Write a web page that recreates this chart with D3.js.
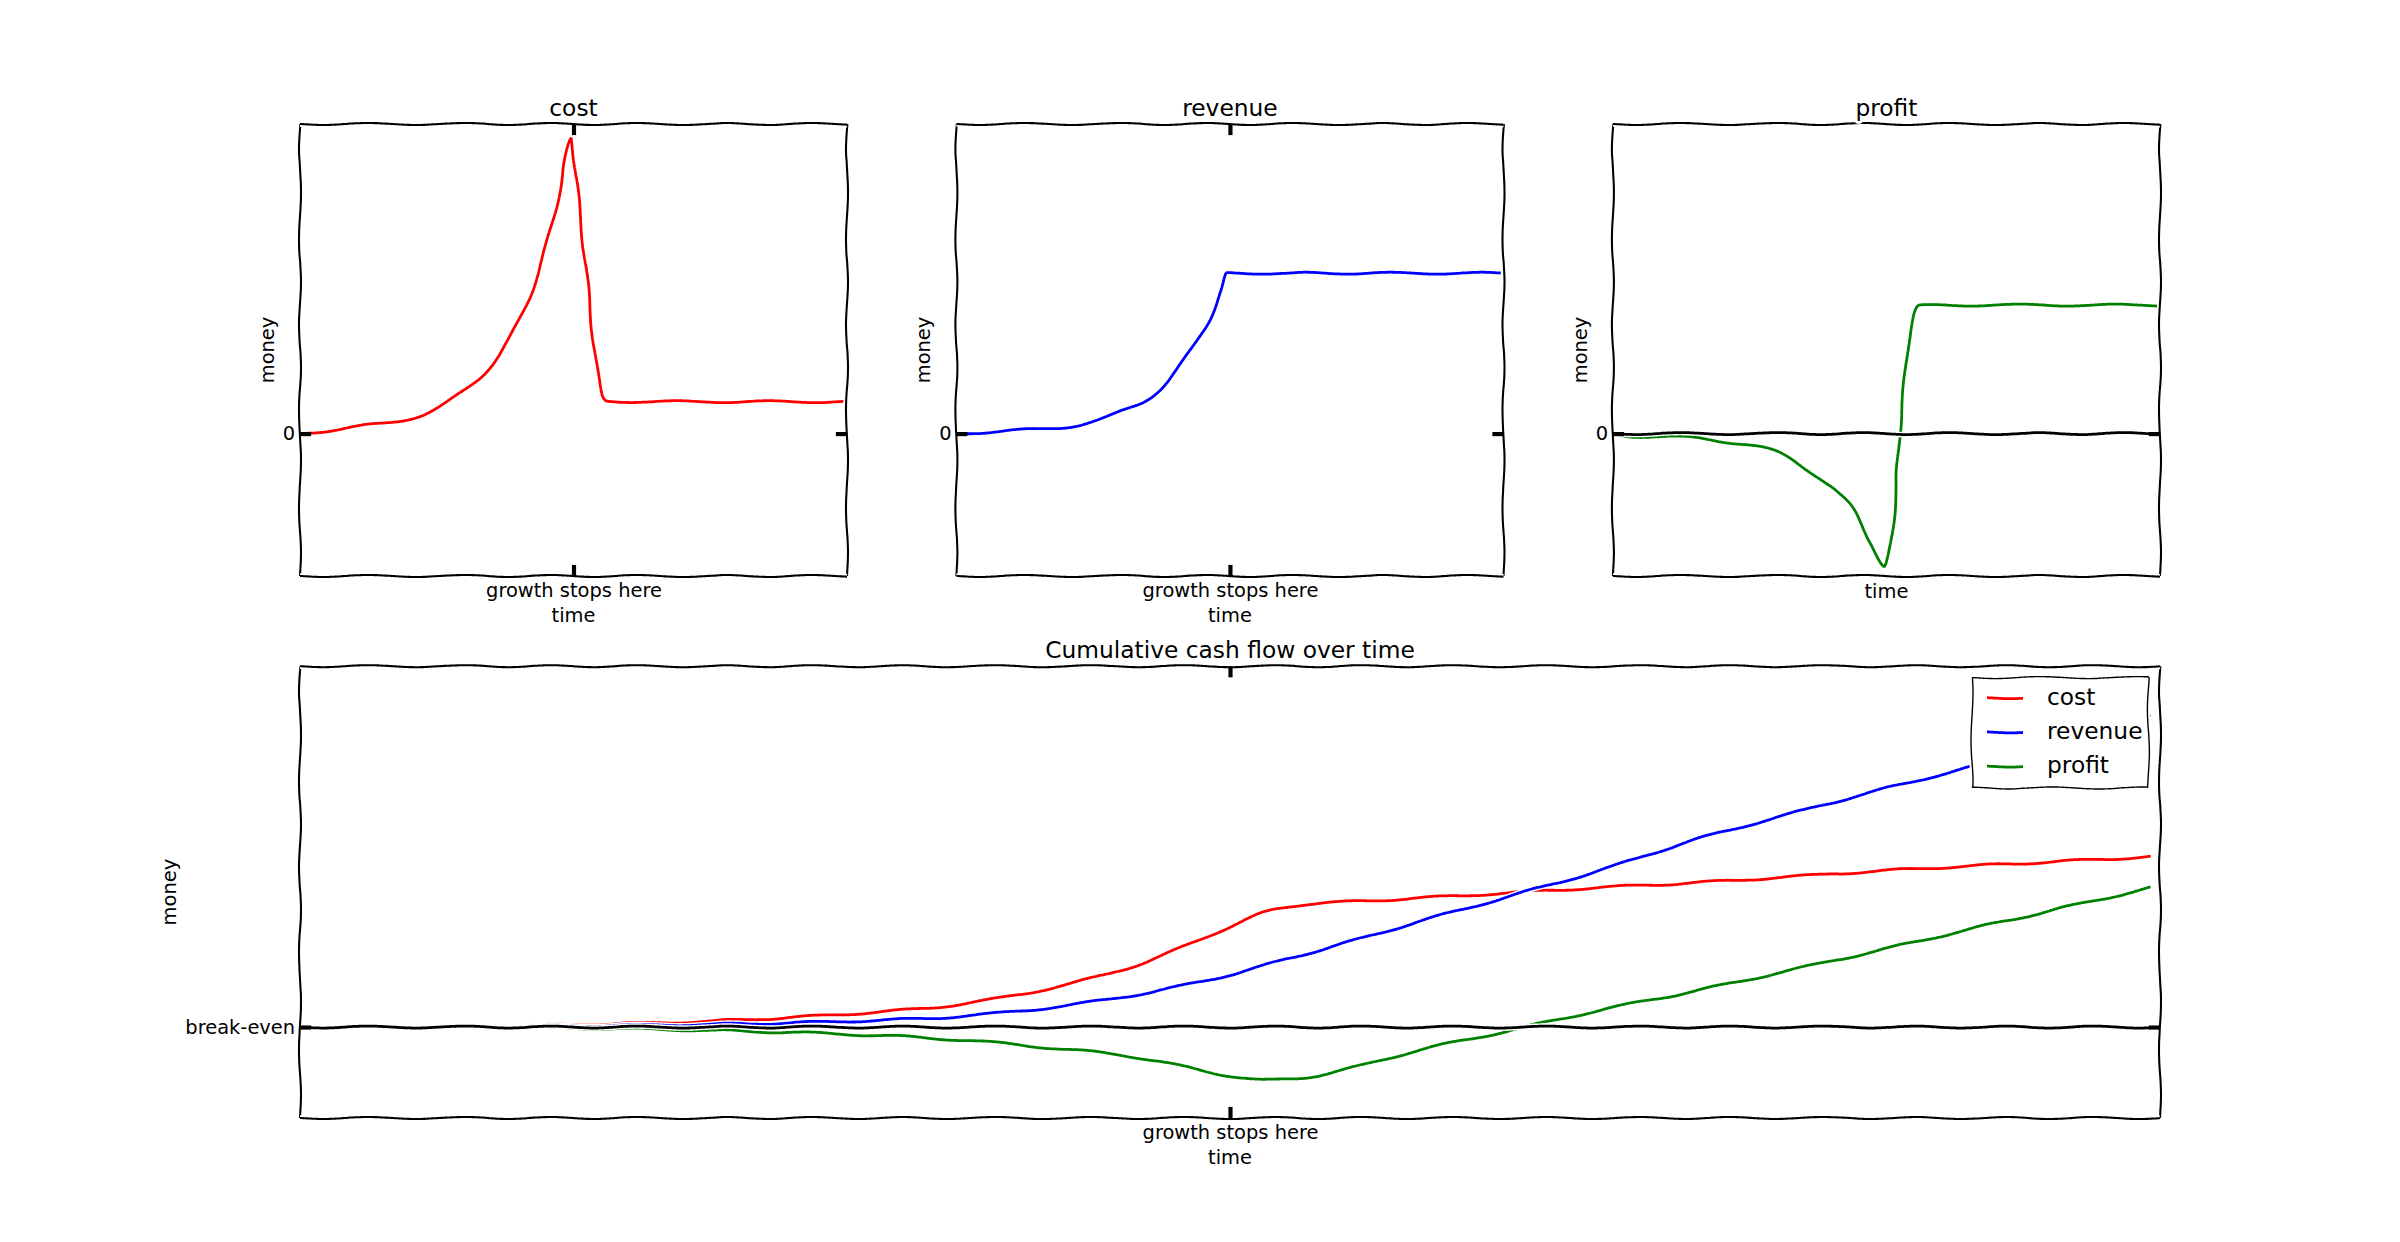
<!DOCTYPE html>
<html>
<head>
<meta charset="utf-8">
<script src="https://cdn.jsdelivr.net/npm/d3@7"></script>
<style>
  body { margin: 0; background: #fff; }
  svg { display: block; }
</style>
</head>
<body>
<svg id="chart" width="2400" height="1242"></svg>
<script>
// ---------------- DATA ----------------
const seriesNames = ["cost", "revenue", "profit"];
const xTickLabel = "growth stops here";
const growthStop = 50;
const topYTickLabel = "0";
const bottomYTickLabel = "break-even";
const panelTitles = ["cost", "revenue", "profit"];
const bottomTitle = "Cumulative cash flow over time";
const xAxisLabel = "time";
const yAxisLabel = "money";

// top panels: per-period amounts
const costTime   = [0, 5, 11.4, 19.6, 23.3, 27.8, 33.8, 36.1, 39.8, 42.8, 44.3, 45.8, 47.6, 49.55, 50.5, 51.5, 52.3, 53.0, 53.6, 54.2, 54.8, 55.4, 56.2, 65, 75, 85, 99.5];
const costValues = [0, 0.009, 0.025, 0.046, 0.067, 0.112, 0.196, 0.248, 0.357, 0.48, 0.56, 0.665, 0.79, 0.955, 0.82, 0.66, 0.53, 0.41, 0.31, 0.22, 0.15, 0.115, 0.105, 0.103, 0.103, 0.103, 0.103];

const revenueTime   = [0, 5, 12.2, 19.7, 24.1, 30.1, 34.6, 37.6, 41.3, 44.3, 47.2, 48.7, 49.5, 60, 75, 90, 99.5];
const revenueValues = [0, 0.004, 0.012, 0.020, 0.035, 0.071, 0.106, 0.150, 0.230, 0.311, 0.403, 0.472, 0.518, 0.518, 0.518, 0.518, 0.518];

const profitTime   = [0, 3.9, 13.6, 20.3, 29.3, 35.2, 41.2, 44.2, 47.2, 49.6, 51.6, 52.4, 53.2, 53.9, 55.0, 56.1, 65, 80, 99.5];
const profitValues = [0, -0.009, -0.012, -0.026, -0.055, -0.113, -0.193, -0.251, -0.354, -0.432, -0.216, 0.0, 0.15, 0.28, 0.382, 0.413, 0.415, 0.415, 0.415];

// bottom panel: cumulative amounts
const cumTime    = [0, 5, 10, 15, 20, 25, 30, 35, 40, 45, 50, 52, 54, 56, 60, 65, 70, 75, 80, 85, 90, 95, 99.5];
const cumCost    = [0, 0.05, 0.25, 0.7, 1.3, 2.3, 3.8, 6.0, 10.4, 17.2, 27.8, 32.0, 34.0, 34.6, 35.7, 37.2, 38.7, 40.0, 41.6, 43.3, 44.7, 46.0, 47.2];
const cumRevenue = [0, 0.03, 0.14, 0.33, 0.6, 1.0, 1.7, 2.8, 5.2, 9.0, 14.5, 17.3, 20.2, 23.0, 29.0, 36.2, 43.6, 51.9, 58.9, 65.8, 72.3, 79.3, 86.2];
const cumProfit  = [0, -0.02, -0.1, -0.35, -0.7, -1.3, -2.1, -3.4, -5.6, -8.4, -13.5, -14.7, -14.0, -12.0, -6.6, -1.0, 4.8, 10.0, 15.6, 21.4, 27.4, 33.3, 38.6];

const seriesColors = ["#ff0000", "#0000ff", "#008000"];

// ---------------- STYLE / LAYOUT ----------------
const FONT = "DejaVu Sans";
const PT = 100 / 72;
const LINE_W = 2 * PT, HALO_W = 4 * PT, SPINE_W = 1.5 * PT, TICK_W = 3 * PT, TICK_L = 8 * PT;
const FS = 14 * PT, FS_TITLE = 16.8 * PT;

const svg = d3.select("#chart");
const tmpPath = svg.append("path").attr("fill", "none").attr("stroke", "none");
const defs = svg.append("defs");

function samplePath(d) {
  tmpPath.attr("d", d);
  const node = tmpPath.node();
  const L = node.getTotalLength();
  const n = Math.max(2, Math.ceil(L));
  const pts = [];
  for (let i = 0; i <= n; i++) {
    const p = node.getPointAtLength(L * i / n);
    pts.push([p.x, p.y]);
  }
  return pts;
}

// matplotlib-like PathSketcher (scale=1, length=100, randomness=2)
function sketch(pts, scale = 1, length = 100, randomness = 2) {
  let seed = 0;
  const rand = () => { seed = (Math.imul(214013, seed) + 2531011) >>> 0; return seed / 4294967296; };
  const pScale = (2 * Math.PI) / (length * randomness);
  const logR = 2 * Math.log(randomness);
  let p = 0;
  let lx = pts[0][0], ly = pts[0][1];
  const out = [[lx, ly]];
  for (let i = 1; i < pts.length; i++) {
    let x = pts[i][0], y = pts[i][1];
    p += Math.exp(rand() * logR);
    const den = lx - x, num = ly - y;
    const len = Math.sqrt(num * num + den * den);
    lx = x; ly = y;
    if (len !== 0) {
      const r = Math.sin(p * pScale) * scale / len;
      x += r * num; y -= r * den;
    }
    out.push([x, y]);
  }
  return out;
}
const lin = d3.line();
function sketchD(d) { return lin(sketch(samplePath(d))); }

function haloStroke(g, d, color, width, fill) {
  g.append("path").attr("d", d).attr("fill", fill || "none")
    .attr("stroke", "#fff").attr("stroke-width", HALO_W).attr("stroke-linejoin", "round");
  g.append("path").attr("d", d).attr("fill", "none")
    .attr("stroke", color).attr("stroke-width", width).attr("stroke-linejoin", "round");
}

function haloText(g, x, y, str, size, anchor) {
  return g.append("text").attr("x", x).attr("y", y).text(str)
    .attr("font-family", FONT).attr("font-size", size)
    .attr("text-anchor", anchor || "middle")
    .attr("fill", "#000").attr("stroke", "#fff").attr("stroke-width", HALO_W)
    .attr("stroke-linejoin", "round").attr("paint-order", "stroke");
}

function styleAxis(sel) {
  sel.select(".domain").remove();
  sel.attr("font-family", FONT).attr("font-size", FS);
  sel.selectAll("line").attr("stroke", "#000").attr("stroke-width", TICK_W);
  sel.selectAll("text").attr("fill", "#000").attr("stroke", "#fff").attr("stroke-width", HALO_W)
    .attr("stroke-linejoin", "round").attr("paint-order", "stroke");
}

let clipId = 0;
function drawPanel(cfg) {
  const g = svg.append("g");
  const x = d3.scaleLinear().domain([0, 100]).range([cfg.x0, cfg.x1]);
  const y = d3.scaleLinear().domain(cfg.yDomain).range([cfg.y1, cfg.y0]);

  const cid = "clip" + (clipId++);
  defs.append("clipPath").attr("id", cid).append("rect")
    .attr("x", cfg.x0).attr("y", cfg.y0).attr("width", cfg.x1 - cfg.x0).attr("height", cfg.y1 - cfg.y0);
  const dataG = g.append("g").attr("clip-path", `url(#${cid})`);

  // data lines
  cfg.series.forEach(s => {
    const pts = s.time.map((t, i) => ({ t, v: s.values[i] }));
    const d = d3.line().x(p => x(p.t)).y(p => y(p.v)).curve(d3.curveMonotoneX)(pts);
    haloStroke(dataG, sketchD(d), s.color, LINE_W);
  });
  // zero line (axhline)
  if (cfg.zeroLine) {
    const d = d3.line()([[cfg.x0, y(0)], [cfg.x1, y(0)]]);
    haloStroke(dataG, sketchD(d), "#000", LINE_W);
  }

  // spines: left, right, bottom, top
  const spines = [
    [[cfg.x0, cfg.y1], [cfg.x0, cfg.y0]],
    [[cfg.x1, cfg.y1], [cfg.x1, cfg.y0]],
    [[cfg.x0, cfg.y1], [cfg.x1, cfg.y1]],
    [[cfg.x0, cfg.y0], [cfg.x1, cfg.y0]]
  ];
  spines.forEach(s => haloStroke(g, sketchD(d3.line()(s)), "#000", SPINE_W));

  // x axis ticks
  const xTicks = cfg.xTicks ? [growthStop] : [];
  const bottomAx = g.append("g").attr("transform", `translate(0,${cfg.y1})`)
    .call(d3.axisBottom(x).tickValues(xTicks).tickFormat(() => xTickLabel)
      .tickSizeInner(-TICK_L).tickSizeOuter(0).tickPadding(6.7));
  styleAxis(bottomAx);
  const topAx = g.append("g").attr("transform", `translate(0,${cfg.y0})`)
    .call(d3.axisTop(x).tickValues(xTicks).tickFormat(() => "")
      .tickSizeInner(-TICK_L).tickSizeOuter(0));
  styleAxis(topAx);

  // y axis ticks
  const leftAx = g.append("g").attr("transform", `translate(${cfg.x0},0)`)
    .call(d3.axisLeft(y).tickValues([0]).tickFormat(() => cfg.yTickLabel)
      .tickSizeInner(-TICK_L).tickSizeOuter(0).tickPadding(4.86));
  styleAxis(leftAx);
  leftAx.selectAll("text").attr("dy", "0.32em");
  const rightAx = g.append("g").attr("transform", `translate(${cfg.x1},0)`)
    .call(d3.axisRight(y).tickValues([0]).tickFormat(() => "")
      .tickSizeInner(-TICK_L).tickSizeOuter(0));
  styleAxis(rightAx);

  // axis labels
  const xc = (cfg.x0 + cfg.x1) / 2, yc = (cfg.y0 + cfg.y1) / 2;
  haloText(g, xc, cfg.y1 + (cfg.xTicks ? 45.5 : 21.5), xAxisLabel, FS);
  let tw = 0;
  leftAx.selectAll("text").each(function () { tw = Math.max(tw, this.getComputedTextLength()); });
  const xb = cfg.x0 - 4.86 - tw - 5.56 - 3.6;
  haloText(g, 0, 0, yAxisLabel, FS).attr("transform", `translate(${xb},${yc}) rotate(-90)`);

  // title
  haloText(g, xc, cfg.y0 - 8.33, cfg.title, FS_TITLE);

  return { g, x, y };
}

// ---------------- PANELS ----------------
const topY0 = 124, topY1 = 576;
const topX = [[300, 847], [956.4, 1503.5], [1612.9, 2160]];
const topSeries = [
  { time: costTime, values: costValues },
  { time: revenueTime, values: revenueValues },
  { time: profitTime, values: profitValues }
];
topSeries.forEach((s, i) => {
  drawPanel({
    x0: topX[i][0], x1: topX[i][1], y0: topY0, y1: topY1,
    yDomain: [-0.46, 1.0],
    series: [{ time: s.time, values: s.values, color: seriesColors[i] }],
    zeroLine: i === 2,
    xTicks: i !== 2,
    yTickLabel: topYTickLabel,
    title: panelTitles[i]
  });
});

const cumSeries = [cumCost, cumRevenue, cumProfit];
drawPanel({
  x0: 300, x1: 2160, y0: 666.2, y1: 1118,
  yDomain: [-25.2, 100],
  series: cumSeries.map((v, i) => ({ time: cumTime, values: v, color: seriesColors[i] })),
  zeroLine: true,
  xTicks: true,
  yTickLabel: bottomYTickLabel,
  title: bottomTitle
});

// ---------------- LEGEND ----------------
const legG = svg.append("g");
const lx0 = 1972, lx1 = 2148.4, ly0 = 677.6, ly1 = 788;
const frameD = sketchD(d3.line()([[lx0, ly0], [lx1, ly0], [lx1, ly1], [lx0, ly1], [lx0, ly0]]));
legG.append("path").attr("d", frameD).attr("fill", "#fff").attr("stroke", "#fff").attr("stroke-width", HALO_W);
legG.append("path").attr("d", frameD).attr("fill", "#fff").attr("stroke", "#000").attr("stroke-width", 1.0 * PT);
seriesNames.forEach((name, i) => {
  const base = 705 + i * 34.2;
  const hd = sketchD(d3.line()([[1987, base - 7.3], [2023, base - 7.3]]));
  haloStroke(legG, hd, seriesColors[i], LINE_W);
  haloText(legG, 2047, base, name, FS_TITLE, "start");
});
tmpPath.remove();
</script>
</body>
</html>
